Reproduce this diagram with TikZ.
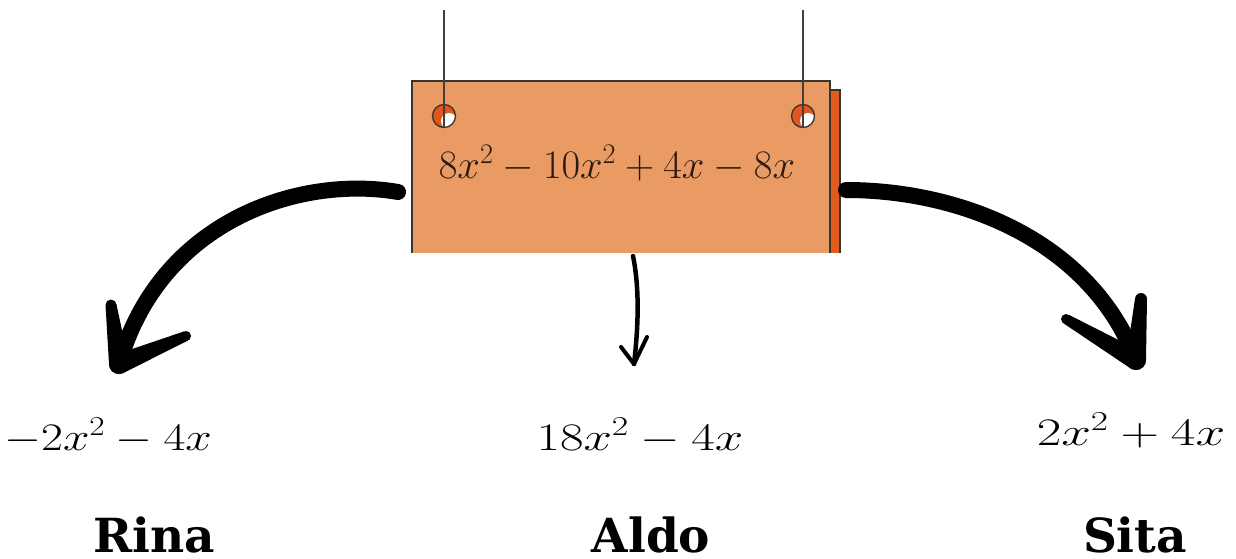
\RequirePackage{fix-cm}
\documentclass[tikz,border=0pt]{standalone}
\usepackage{fontspec}
\newfontfamily\namefont{DejaVu Serif}
\usetikzlibrary{calc}
\definecolor{boardfill}{HTML}{E99B63}
\definecolor{boardback}{HTML}{E05C1C}
\definecolor{holefill}{HTML}{E0561C}
\definecolor{edgecol}{HTML}{3A3330}
\definecolor{eqcol}{HTML}{2A1A12}
\tikzset{
  edge/.style={draw=edgecol, line width=1.4pt},
  stringline/.style={draw=edgecol!85!gray, line width=1.2pt},
  hole/.style={circle, draw=edgecol, line width=1.3pt, fill=holefill, minimum size=23pt, inner sep=0pt,
    path picture={\fill[white] ($(path picture bounding box.center)+(5,5)$) circle (8);}},
  brush/.style={line width=16pt, line cap=round, black},
  thinbrush/.style={line width=4.5pt, line cap=round, black},
  thinbarb/.style={line width=4pt, line cap=round, black},
  mathlabel/.style={inner sep=0pt, anchor=base, font=\fontsize{39}{44}\selectfont},
  namelabel/.style={inner sep=0pt, anchor=base, font=\namefont\bfseries\fontsize{47}{54}\selectfont},
}
\newcommand{\widemath}[2]{\scalebox{#1}[1]{$#2$}}
% tapered brush barb from tip #1 to end #2, half widths #3 (tip) and #4 (end)
\newcommand{\brushbarb}[4]{%
  \fill[black] ($(#1)!#3!90:(#2)$) -- ($(#2)!#4!-90:(#1)$) -- ($(#2)!#4!90:(#1)$) -- ($(#1)!#3!-90:(#2)$) -- cycle;
  \fill[black] (#2) circle (#4);
  \fill[black] (#1) circle (#3);}
\begin{document}
\begin{tikzpicture}[x=1pt,y=-1pt]
\useasboundingbox (0,0) rectangle (1236,559);
% back panel
\fill[boardback] (826,90) rectangle (840,253);
\draw[edge] (826,90) -- (840,90) -- (840,253);
% main board
\fill[boardfill] (412,81) rectangle (830,253);
\draw[edge] (412,253) -- (412,81) -- (830,81) -- (830,253);
\node[inner sep=0pt, minimum width=418pt, minimum height=172pt] (board) at (621,167) {};
% holes and strings
\node[hole] (h1) at (444,116) {};
\node[hole] (h2) at (803,116) {};
\coordinate (s1) at (444,10);
\coordinate (s2) at (803,10);
\draw[stringline] (s1) -- (h1.south);
\draw[stringline] (s2) -- (h2.south);
% equation
\node[mathlabel, text=eqcol, font=\fontsize{40.5}{46}\selectfont] (eq) at (617,178) {$8x^2 - 10x^2 + 4x - 8x$};
% expressions
\node[mathlabel] (er) at (108,450) {\widemath{1.22}{-2x^2 - 4x}};
\node[mathlabel] (ea) at (640,450) {\widemath{1.31}{18x^2 - 4x}};
\node[mathlabel] (es) at (1131,445) {\widemath{1.37}{2x^2 + 4x}};
% names
\node[namelabel] (nr) at (154,552) {Rina};
\node[namelabel] (na) at (651,552) {Aldo};
\node[namelabel] (ns) at (1135,552) {Sita};
% left arrow
\coordinate (ls) at (398,192);
\coordinate (lt) at (119,364);
\coordinate (lb1) at (111,305);
\coordinate (lb2) at (186,336);
\draw[brush] (ls) .. controls (300,175) and (160,220) .. (lt);
\brushbarb{lt}{lb1}{10pt}{5.5pt}
\brushbarb{lt}{lb2}{10pt}{5pt}
% right arrow
\coordinate (rs) at (846,190);
\coordinate (rt) at (1136,360);
\coordinate (rb1) at (1141,299);
\coordinate (rb2) at (1066,319);
\draw[brush] (rs) .. controls (960,190) and (1090,240) .. (rt);
\brushbarb{rt}{rb1}{10pt}{6pt}
\brushbarb{rt}{rb2}{10pt}{5pt}
% middle arrow
\coordinate (ms) at (633,256);
\coordinate (mt) at (634,364);
\coordinate (mb1) at (621,347);
\coordinate (mb2) at (647,337);
\draw[thinbrush] (ms) .. controls (640,290) and (638,330) .. (mt);
\draw[thinbarb] (mt) -- (mb1);
\draw[thinbarb] (mt) -- (mb2);
\end{tikzpicture}
\end{document}
